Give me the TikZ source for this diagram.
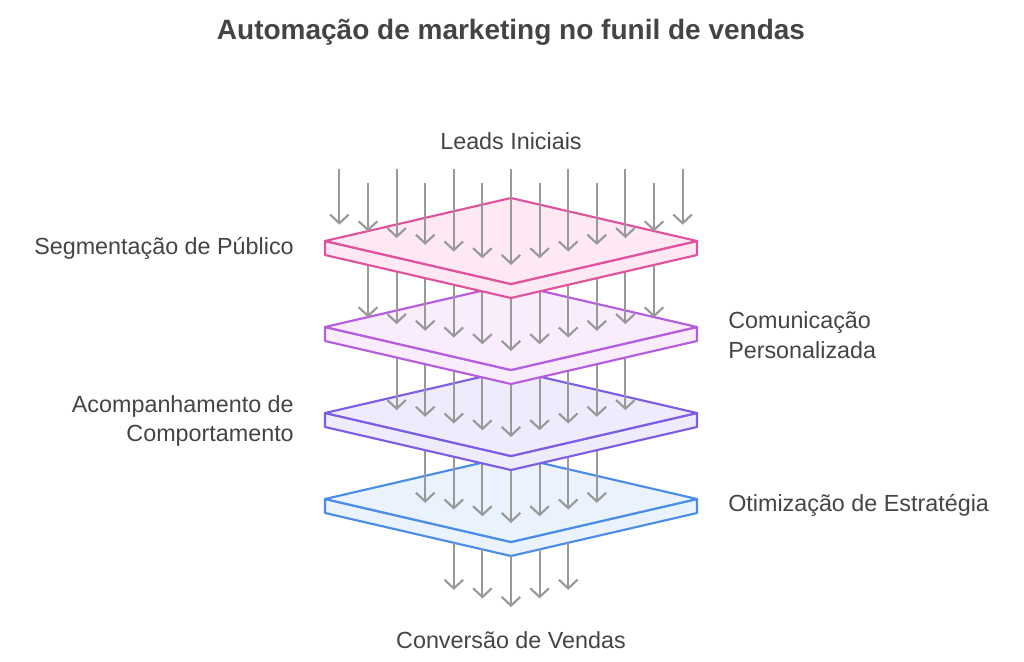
\documentclass[tikz,border=0pt]{standalone}
\usepackage{fontspec}
\setmainfont{Liberation Sans}
\usetikzlibrary{arrows.meta}
\definecolor{txt}{HTML}{444444}
\definecolor{arr}{HTML}{999999}
\definecolor{pinkS}{HTML}{E0529C}\definecolor{pinkF}{HTML}{FDE8F3}
\definecolor{violS}{HTML}{B65CE0}\definecolor{violF}{HTML}{F8ECFD}
\definecolor{purpS}{HTML}{7D5CE6}\definecolor{purpF}{HTML}{EEEBFD}
\definecolor{blueS}{HTML}{4A8DE8}\definecolor{blueF}{HTML}{EAF2FE}
\tikzset{
  flow/.style={draw=arr, line width=1.6pt, -{Straight Barb[length=6.5pt,width=14pt]}},
  lbl/.style={text=txt, font=\fontsize{17.5}{22}\selectfont, align=left, inner sep=0pt},
}
% plate: center y, stroke, fill
\newcommand\plate[3]{
  \filldraw[draw=#2, fill=#3, line width=1.6pt, line join=round]
    (325,#1) -- (511,#1+43) -- (697,#1) -- (697,#1+14) -- (511,#1+57) -- (325,#1+14) -- cycle;
  \filldraw[draw=#2, fill=#3, line width=1.6pt, line join=round]
    (325,#1) -- (511,#1-43) -- (697,#1) -- (511,#1+43) -- cycle;
}
% arrows into plate at center y #1, half count #2, from plate above at #3 (or 0)
\newcommand\rain[3]{
  \foreach \k in {-#2,...,#2}{
    \pgfmathsetmacro\dx{abs(\k)*28.6}
    \pgfmathsetmacro\ya{#3==0 ? (isodd(\k) ? 183 : 169) : #3+57-0.231*\dx}
    \draw[flow] (511+\k*28.6,\ya) -- (511+\k*28.6,#1+24-0.235*\dx);
  }
}
\begin{document}
\begin{tikzpicture}[x=0.75pt,y=-0.75pt]
\useasboundingbox (0,0) rectangle (1024,661);
\node[text=txt, font=\fontsize{21}{25}\selectfont\bfseries] (title) at (511,32) {Automação de marketing no funil de vendas};
\node[lbl] (leads) at (511,141) {Leads Iniciais};
\node[lbl] (conv) at (511,640) {Conversão de Vendas};
% plates from bottom to top
\plate{499}{blueS}{blueF}
\foreach \k in {-2,...,2}{
  \pgfmathsetmacro\dx{abs(\k)*28.6}
  \draw[flow] (511+\k*28.6,499+57-0.231*\dx) -- (511+\k*28.6,607-0.3*\dx);
}
\rain{499}{3}{413}
\plate{413}{purpS}{purpF}
\rain{413}{4}{327}
\plate{327}{violS}{violF}
\rain{327}{5}{241}
\plate{241}{pinkS}{pinkF}
\rain{241}{6}{0}
% labels
\node[lbl, anchor=east] (seg) at (294,248) {Segmentação de Público};
\node[lbl, anchor=west] (com) at (728,335) {Comunicação\\Personalizada};
\node[lbl, anchor=east, align=right] (acomp) at (294,421) {Acompanhamento de\\Comportamento};
\node[lbl, anchor=west] (otim) at (728,505) {Otimização de Estratégia};
\end{tikzpicture}
\end{document}
